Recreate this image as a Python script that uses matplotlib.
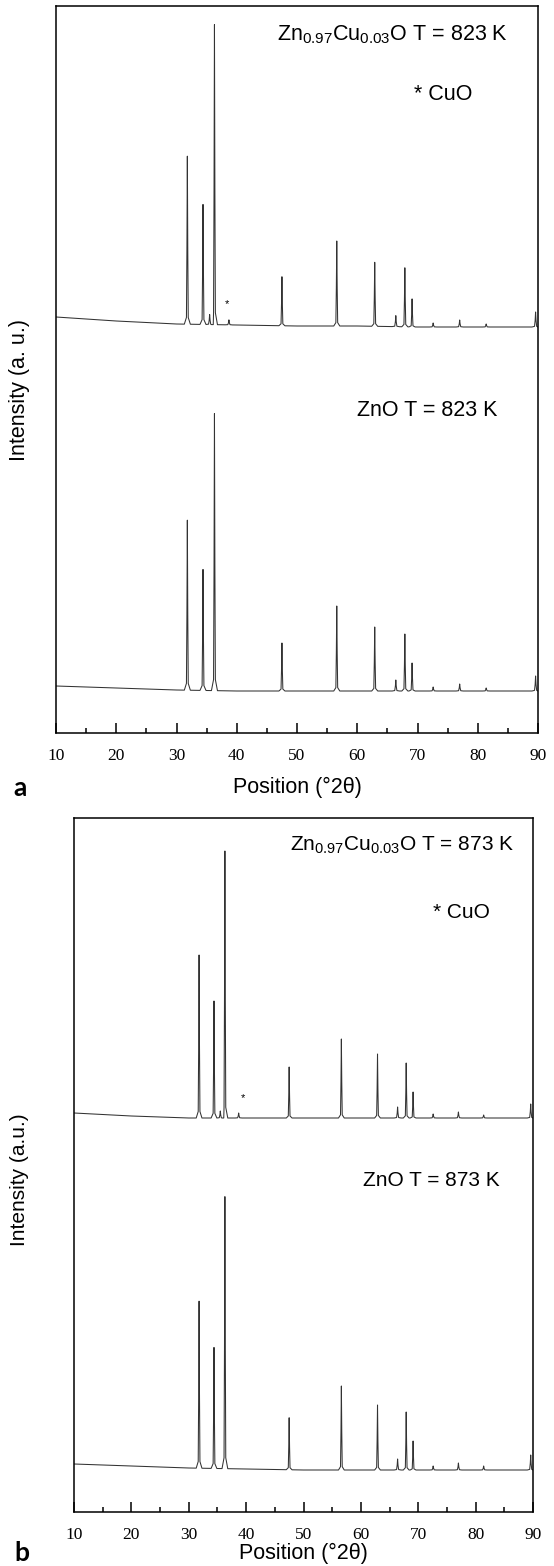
import numpy as np
import matplotlib
matplotlib.use("Agg")
import matplotlib.pyplot as plt
from matplotlib.ticker import MultipleLocator

plt.rcParams['font.family'] = ['Liberation Sans', 'DejaVu Sans']
plt.rcParams['mathtext.default'] = 'regular'

# peak positions (°2θ) shared by all patterns
peak_pos = [31.8, 34.4, 35.5, 36.3, 38.7, 47.5, 56.6, 62.9, 66.4, 67.9, 69.1, 72.6, 77.0, 81.4, 89.6]

# baseline (x, intensity)
base_x = [10, 20, 30, 40, 50, 60, 70, 80, 90]

# panel a, Zn0.97Cu0.03O 823 K
a_top_base = [416, 412, 409, 408, 407, 407, 406, 406, 406]
a_top_h = [168, 120, 10, 300, 5, 49, 85, 64, 11, 59, 28, 4, 7, 3, 15]
# panel a, ZnO 823 K
a_bot_base = [47, 45, 43, 42, 42, 42, 42, 42, 42]
a_bot_h = [170, 121, 0, 277, 0, 48, 85, 64, 11, 57, 28, 4, 7, 3, 15]

# panel b, Zn0.97Cu0.03O 873 K
b_top_base = [399, 396, 394, 394, 394, 394, 394, 394, 394]
b_top_h = [163, 117, 7, 267, 5, 51, 79, 64, 11, 55, 26, 4, 6, 3, 14]
# panel b, ZnO 873 K
b_bot_base = [48, 46, 44, 43, 42, 42, 42, 42, 42]
b_bot_h = [167, 121, 0, 272, 0, 52, 84, 65, 11, 58, 29, 4, 7, 4, 15]

xticks = [10, 20, 30, 40, 50, 60, 70, 80, 90]


def pattern(base, heights):
    # polyline: baseline points plus a narrow spike at every peak
    xs = list(base_x)
    ys = list(base)
    for p, h in zip(peak_pos, heights):
        if h <= 0:
            continue
        w = 0.5 if h > 20 else 0.6
        px = [p - w, p - 0.3 * w, p - 0.07, p, p + 0.07, p + 0.3 * w, p + w]
        frac = [0.0, 0.04, 0.45, 1.0, 0.45, 0.04, 0.0]
        for xx, f in zip(px, frac):
            xs.append(xx)
            ys.append(np.interp(xx, base_x, base) + f * h)
    order = np.argsort(xs)
    return np.array(xs)[order], np.array(ys)[order]


def style_axes(ax, ymax):
    ax.set_xlim(10, 90)
    ax.set_ylim(0, ymax)
    ax.set_yticks([])
    ax.set_xticks(xticks)
    ax.xaxis.set_minor_locator(MultipleLocator(5))
    ax.tick_params(axis='x', which='major', direction='in', length=7, width=1.1,
                   labelsize=12.5, pad=11)
    ax.tick_params(axis='x', which='minor', direction='in', length=3.5, width=1.1)
    for lab in ax.get_xticklabels():
        lab.set_family('Liberation Serif')
    for s in ax.spines.values():
        s.set_linewidth(1.1)


fig = plt.figure(figsize=(5.54, 15.66), dpi=100)

# ---- panel a
ax1 = fig.add_axes([56 / 554, 1 - 733 / 1566, 482 / 554, 727 / 1566])
for base, h in [(a_top_base, a_top_h), (a_bot_base, a_bot_h)]:
    x, y = pattern(base, h)
    ax1.plot(x, y, color='#333333', lw=0.75)
style_axes(ax1, 727)
ax1.text(46.7, 698, r'Zn$_{0.97}$Cu$_{0.03}$O T = 823 K', fontsize=15.5, va='center')
ax1.text(69.4, 638, '* CuO', fontsize=15.5, va='center')
ax1.text(60.0, 323, 'ZnO T = 823 K', fontsize=15.5, va='center')
ax1.text(38.4, 429, '*', fontsize=8, ha='center', va='center')
fig.text(297 / 554, 1 - 787 / 1566, 'Position (°2θ)', fontsize=15.5, ha='center', va='center')
fig.text(20 / 554, 1 - 390 / 1566, 'Intensity (a. u.)', fontsize=15.5, rotation=90,
         ha='center', va='center')
fig.text(20 / 554, 1 - 788 / 1566, 'a', fontsize=19, fontweight='bold', family='Lato',
         ha='center', va='center')

# ---- panel b
ax2 = fig.add_axes([74 / 554, 1 - 1512 / 1566, 459 / 554, 694 / 1566])
for base, h in [(b_top_base, b_top_h), (b_bot_base, b_bot_h)]:
    x, y = pattern(base, h)
    ax2.plot(x, y, color='#333333', lw=0.75)
style_axes(ax2, 694)
ax2.text(47.6, 667, r'Zn$_{0.97}$Cu$_{0.03}$O T = 873 K', fontsize=15, va='center')
ax2.text(72.6, 600, '* CuO', fontsize=15, va='center')
ax2.text(60.4, 332, 'ZnO T = 873 K', fontsize=15, va='center')
ax2.text(39.5, 414, '*', fontsize=8, ha='center', va='center')
fig.text(303 / 554, 1 - 1553 / 1566, 'Position (°2θ)', fontsize=15.5, ha='center', va='center')
fig.text(20 / 554, 1 - 1180 / 1566, 'Intensity (a.u.)', fontsize=15, rotation=90,
         ha='center', va='center')
fig.text(22 / 554, 1 - 1553 / 1566, 'b', fontsize=19, fontweight='bold', family='Lato',
         ha='center', va='center')

fig.savefig('out.png', dpi=100)
